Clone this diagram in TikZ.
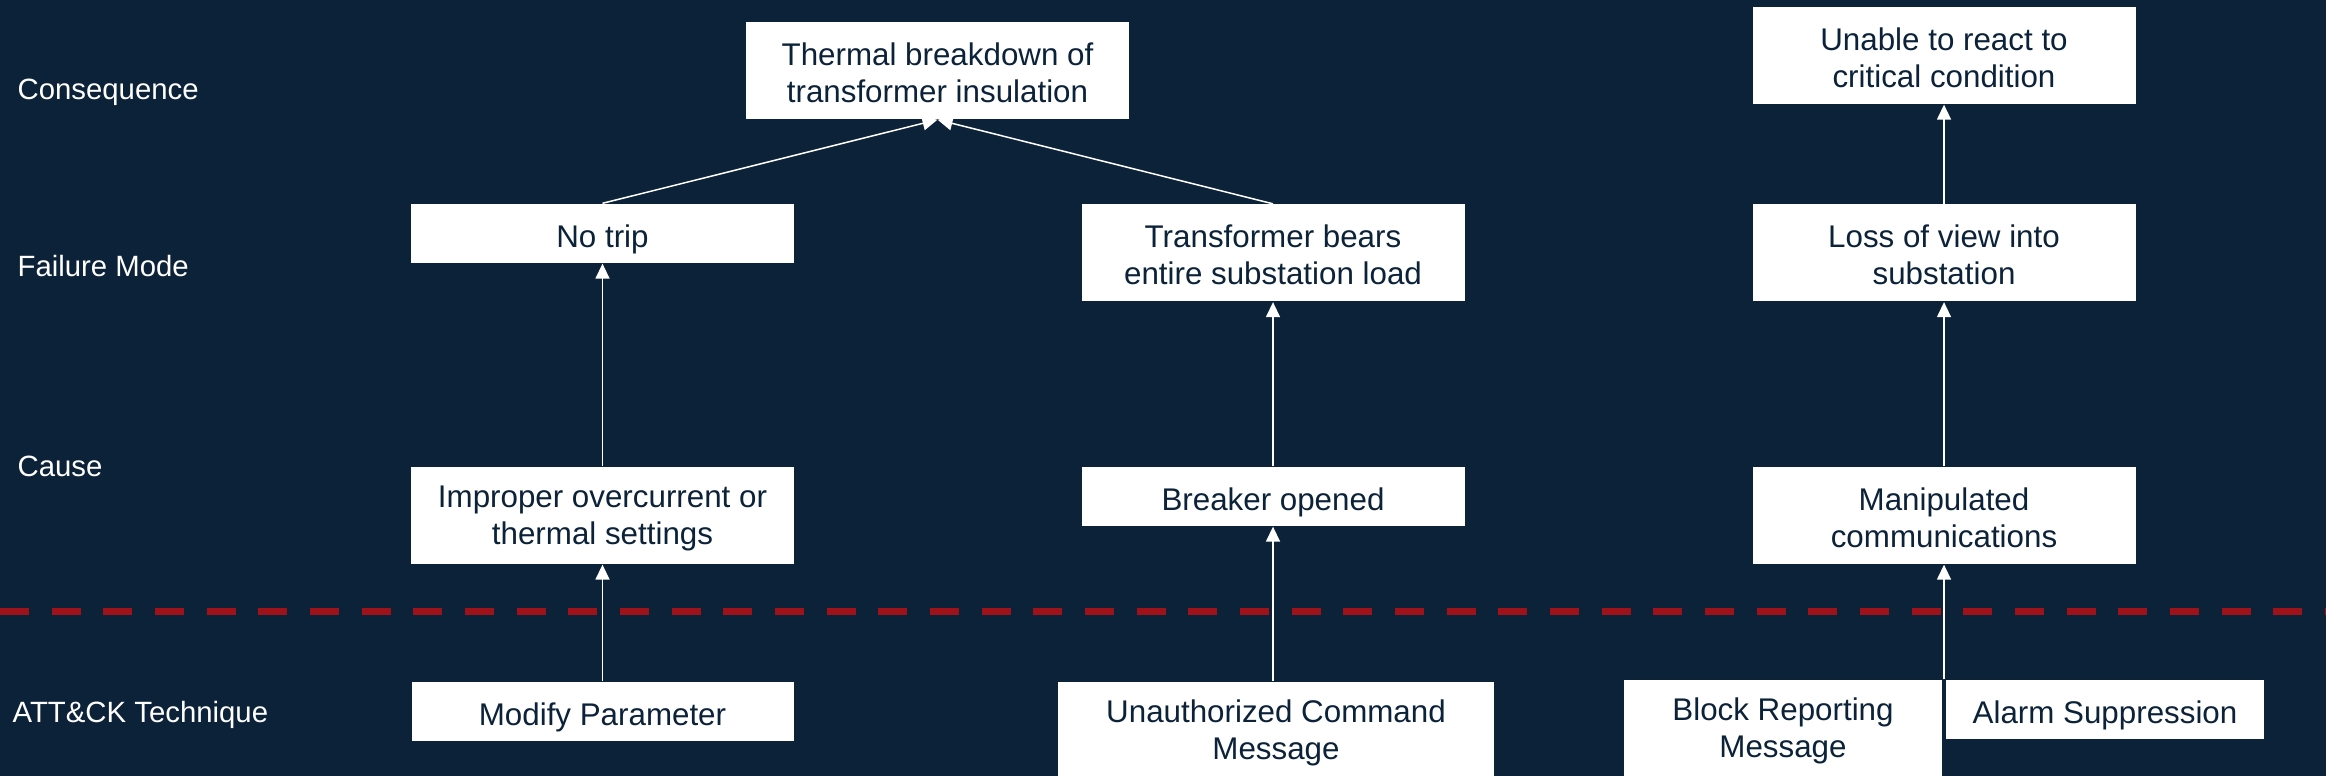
\documentclass[tikz,border=0pt]{standalone}
\usepackage{fontspec}
\setmainfont{Liberation Sans}
\usetikzlibrary{arrows.meta,calc}
\definecolor{navy}{HTML}{0C2239}
\definecolor{dashred}{HTML}{A0121A}
\newcommand\tstr{\rule{0pt}{0.85em}}
\begin{document}
\begin{tikzpicture}[x=0.3pt,y=-0.3pt,
  box/.style={fill=white,text=navy,align=center,inner sep=0pt,minimum width=114.9pt,
    font=\fontsize{9.4}{11.1}\selectfont},
  one/.style={minimum height=17.7pt,
    execute at begin node={\rule{0pt}{1.1em}},
    execute at end node={\rule[-0.212em]{0pt}{0pt}}},
  two/.style={minimum height=29.1pt},
  lab/.style={text=white,anchor=base west,inner sep=0pt,font=\fontsize{8.8}{10.5}\selectfont},
  arr/.style={draw=white,line width=0.45pt,-{Triangle[length=4.5pt,width=4.2pt]}},
  sep/.style={draw=dashred,line width=2.1pt,dash pattern=on 8.7pt off 6.8pt}]
\useasboundingbox (0,0) rectangle (2326,776);
\fill[navy] (0,0) rectangle (2326,776);
\clip (0,0) rectangle (2326,776);

% row labels
\node[lab] (lcons) at (17,100) {Consequence};
\node[lab] (lfail) at (17,277) {Failure Mode};
\node[lab] (lcause) at (17,477) {Cause};
\node[lab] (ltech) at (12,722) {ATT\&CK Technique};

% separator
\coordinate (sepL) at (0,612);
\coordinate (sepR) at (2326,612);
\draw[sep] (sepL) -- (sepR);

% consequence
\node[box,two] (thermal) at (937.5,70.5) {\tstr Thermal breakdown of\\transformer insulation};
\node[box,two] (unable) at (1944,55.5) {\tstr Unable to react to\\critical condition};

% failure mode
\node[box,one] (notrip) at (602.5,233.5) {No trip};
\node[box,two] (transf) at (1273,253) {\tstr Transformer bears\\entire substation load};
\node[box,two] (loss) at (1944,253) {\tstr Loss of view into\\substation};

% cause
\node[box,two] (improper) at (602.5,515.5) {\tstr Improper overcurrent or\\thermal settings};
\node[box,one] (breaker) at (1273,496.5) {Breaker opened};
\node[box,two] (manip) at (1944,515.5) {\tstr Manipulated\\communications};

% techniques
\node[box,one,minimum width=114.6pt] (modify) at (602.5,711.5) {Modify Parameter};
\node[box,two,minimum width=130.8pt] (unauth) at (1276,730.5) {\tstr Unauthorized Command\\Message};
\node[box,two,minimum width=95.4pt] (block) at (1783,728.5) {\tstr Block Reporting\\Message};
\node[box,one,minimum width=95.4pt] (alarm) at (2105,709.5) {Alarm Suppression};

% connectors
\draw[arr] (modify.north) -- (improper.south);
\draw[arr] (improper.north) -- (notrip.south);
\draw[arr] (notrip.north) -- (thermal.south);
\draw[arr] (breaker.south |- unauth.north) -- (breaker.south);
\draw[arr] (breaker.north) -- (transf.south);
\draw[arr] (transf.north) -- (thermal.south);
\draw[arr] (manip.south |- block.north) -- (manip.south);
\draw[arr] (manip.north) -- (loss.south);
\draw[arr] (loss.north) -- (unable.south);
\end{tikzpicture}
\end{document}
